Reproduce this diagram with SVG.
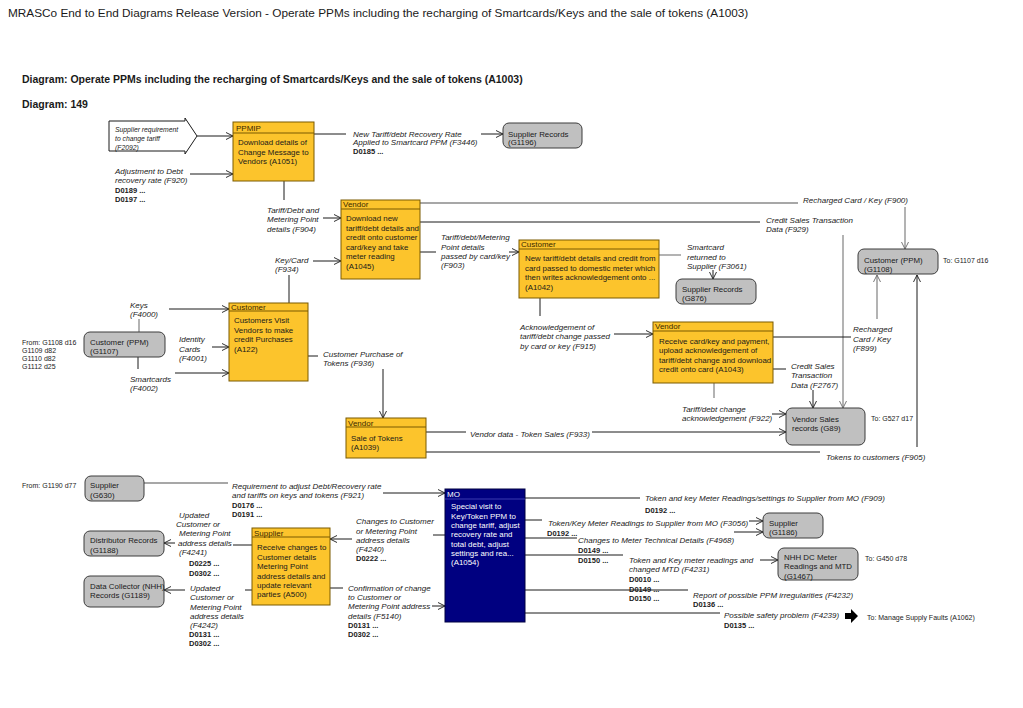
<svg xmlns="http://www.w3.org/2000/svg" width="1023" height="708" viewBox="0 0 1023 708">
<defs>
<style>
text{font-family:"Liberation Sans",Arial,sans-serif;fill:#1a1a1a}
.ttl{font-size:11.8px}
.hd{font-size:10.5px;font-weight:bold}
.l{font-size:8px;font-style:italic}
.sl{font-size:6.8px;font-style:italic}
.c{font-size:7.5px;font-weight:bold}
.n{font-size:7.9px}
.h{font-size:8px;fill:#3a2800}
.x{font-size:7px}
.w{fill:#ffffff}
.yb{fill:#FCC42C;stroke:#7a5a00;stroke-width:1}
.gb{fill:#c0c0c0;stroke:#3c3c3c;stroke-width:1}
.mo{fill:#000080;stroke:#000040;stroke-width:1}
.k{stroke:#1a1a1a;stroke-width:1;fill:none}
.g{stroke:#8a8a8a;stroke-width:1.3;fill:none}
.ak{marker-end:url(#ak)}
.ag{marker-end:url(#ag)}
</style>
<marker id="ak" viewBox="0 0 10 10" refX="10" refY="5" markerWidth="7" markerHeight="8" orient="auto" markerUnits="userSpaceOnUse"><path d="M0,0 L10,5 L0,10" fill="none" stroke="#1a1a1a" stroke-width="1.3"/></marker>
<marker id="ag" viewBox="0 0 10 10" refX="10" refY="5" markerWidth="7" markerHeight="8" orient="auto" markerUnits="userSpaceOnUse"><path d="M0,0 L10,5 L0,10" fill="none" stroke="#6a6a6a" stroke-width="1.3"/></marker>
</defs>
<rect x="0" y="0" width="1023" height="708" fill="#ffffff"/>
<text class="ttl" x="8" y="17">MRASCo End to End Diagrams Release Version - Operate PPMs including the recharging of Smartcards/Keys and the sale of tokens (A1003)</text>
<text class="hd" x="22" y="83">Diagram: Operate PPMs including the recharging of Smartcards/Keys and the sale of tokens (A1003)</text>
<text class="hd" x="22" y="108">Diagram: 149</text>

<g id="connectors">
<line class="k ak" x1="197" y1="136" x2="233" y2="136"/>
<line class="k ak" x1="190" y1="174" x2="233" y2="174"/>
<line class="k" x1="314" y1="134" x2="346" y2="134"/>
<line class="k ak" x1="481" y1="134" x2="503" y2="134"/>
<line class="k" x1="284" y1="181" x2="284" y2="200"/>
<line class="k ak" x1="323" y1="218" x2="341" y2="218"/>
<line class="g" x1="420" y1="203" x2="798" y2="203"/>
<line class="g ag" x1="905" y1="207" x2="905" y2="249"/>
<line class="k" x1="420" y1="222" x2="760" y2="222"/>
<line class="g ag" x1="843" y1="235" x2="843" y2="408"/>
<line class="k" x1="420" y1="252" x2="436" y2="252"/>
<line class="k ak" x1="509" y1="252" x2="519" y2="252"/>
<line class="g" x1="659" y1="255" x2="681" y2="255"/>
<line class="k ak" x1="713" y1="270" x2="713" y2="279"/>
<line class="k" x1="540" y1="298" x2="540" y2="316"/>
<line class="k ak" x1="614" y1="334" x2="653" y2="334"/>
<line class="k" x1="773" y1="337" x2="851" y2="337"/>
<line class="g ag" x1="877" y1="319" x2="877" y2="275"/>
<line class="k" x1="773" y1="369" x2="786" y2="369"/>
<line class="k ak" x1="813" y1="390" x2="813" y2="408"/>
<line class="g" x1="714" y1="383" x2="714" y2="398"/>
<line class="k ak" x1="772" y1="414" x2="786" y2="414"/>
<line class="k" x1="426" y1="432" x2="466" y2="432"/>
<line class="k ak" x1="592" y1="432" x2="786" y2="432"/>
<line class="k" x1="426" y1="452" x2="820" y2="452"/>
<line class="k ak" x1="917" y1="447" x2="917" y2="275"/>
<line class="k" x1="289" y1="303" x2="289" y2="275"/>
<line class="k ak" x1="313" y1="261" x2="341" y2="261"/>
<line class="k" x1="308" y1="356" x2="318" y2="356"/>
<line class="k ak" x1="383" y1="369" x2="383" y2="418"/>
<line class="k ak" x1="169" y1="309" x2="229" y2="309"/>
<line class="g" x1="139" y1="319" x2="139" y2="332"/>
<line class="k ak" x1="212" y1="347" x2="229" y2="347"/>
<line class="k" x1="138" y1="357" x2="138" y2="369"/>
<line class="k ak" x1="175" y1="373" x2="229" y2="373"/>
<line class="g" x1="144" y1="483" x2="228" y2="483"/>
<line class="k ak" x1="383" y1="493" x2="445" y2="493"/>
<line class="k" x1="525" y1="498" x2="640" y2="498"/>
<line class="k" x1="525" y1="520" x2="542" y2="520"/>
<line class="k ak" x1="749" y1="521" x2="763" y2="521"/>
<line class="k" x1="525" y1="538" x2="577" y2="538"/>
<line class="k ak" x1="734" y1="532" x2="763" y2="532"/>
<line class="k" x1="525" y1="555" x2="623" y2="555"/>
<line class="k ak" x1="760" y1="560" x2="778" y2="560"/>
<line class="k" x1="525" y1="590" x2="688" y2="590"/>
<line class="k" x1="525" y1="613" x2="720" y2="613"/>
<line class="k" x1="445" y1="535" x2="433" y2="535"/>
<line class="k ak" x1="352" y1="539" x2="330" y2="539"/>
<line class="k" x1="330" y1="588" x2="343" y2="588"/>
<line class="k ak" x1="432" y1="606" x2="445" y2="606"/>
<line class="k" x1="252" y1="545" x2="233" y2="545"/>
<line class="k ak" x1="175" y1="543" x2="164" y2="543"/>
<line class="k" x1="252" y1="590" x2="245" y2="590"/>
<line class="k ak" x1="185" y1="590" x2="164" y2="590"/>
</g>

<g id="labels">
<text class="l"><tspan x="115" y="174">Adjustment to Debt</tspan><tspan x="115" y="183">recovery rate (F920)</tspan></text>
<text class="c" x="115" y="193">D0189 ...</text>
<text class="c" x="115" y="202">D0197 ...</text>
<text class="l"><tspan x="353" y="137">New Tariff/debt Recovery Rate</tspan><tspan x="353" y="145">Applied to Smartcard PPM (F3446)</tspan></text>
<text class="c" x="353" y="154">D0185 ...</text>
<text class="l"><tspan x="267" y="213">Tariff/Debt and</tspan><tspan x="267" y="222">Metering Point</tspan><tspan x="267" y="232">details (F904)</tspan></text>
<text class="l" x="803" y="203">Recharged Card / Key (F900)</text>
<text class="l"><tspan x="766" y="223">Credit Sales Transaction</tspan><tspan x="766" y="232">Data (F929)</tspan></text>
<text class="l"><tspan x="441" y="240">Tariff/debt/Metering</tspan><tspan x="441" y="250">Point details</tspan><tspan x="441" y="259">passed by card/key</tspan><tspan x="441" y="268">(F903)</tspan></text>
<text class="l"><tspan x="687" y="250">Smartcard</tspan><tspan x="687" y="260">returned to</tspan><tspan x="687" y="269">Supplier (F3061)</tspan></text>
<text class="l"><tspan x="275" y="263">Key/Card</tspan><tspan x="275" y="272">(F934)</tspan></text>
<text class="l"><tspan x="520" y="330">Acknowledgement of</tspan><tspan x="520" y="339">tariff/debt change passed</tspan><tspan x="520" y="349">by card or key (F915)</tspan></text>
<text class="l"><tspan x="853" y="332">Recharged</tspan><tspan x="853" y="342">Card / Key</tspan><tspan x="853" y="351">(F899)</tspan></text>
<text class="l"><tspan x="791" y="369">Credit Sales</tspan><tspan x="791" y="378">Transaction</tspan><tspan x="791" y="388">Data (F2767)</tspan></text>
<text class="l"><tspan x="682" y="412">Tariff/debt change</tspan><tspan x="682" y="421">acknowledgement (F922)</tspan></text>
<text class="l" x="470" y="437">Vendor data - Token Sales (F933)</text>
<text class="l" x="826" y="460">Tokens to customers (F905)</text>
<text class="l"><tspan x="323" y="357">Customer Purchase of</tspan><tspan x="323" y="366">Tokens (F936)</tspan></text>
<text class="l"><tspan x="130" y="308">Keys</tspan><tspan x="130" y="317">(F4000)</tspan></text>
<text class="l"><tspan x="179" y="342">Identity</tspan><tspan x="179" y="352">Cards</tspan><tspan x="179" y="361">(F4001)</tspan></text>
<text class="l"><tspan x="130" y="382">Smartcards</tspan><tspan x="130" y="391">(F4002)</tspan></text>
<text class="l"><tspan x="232" y="489">Requirement to adjust Debt/Recovery rate</tspan><tspan x="232" y="498">and tariffs on keys and tokens (F921)</tspan></text>
<text class="c" x="232" y="508">D0176 ...</text>
<text class="c" x="232" y="517">D0191 ...</text>
<text class="l" x="645" y="501">Token and key Meter Readings/settings to Supplier from MO (F909)</text>
<text class="c" x="645" y="513">D0192 ...</text>
<text class="l" x="548" y="526">Token/Key Meter Readings to Supplier from MO (F3056)</text>
<text class="c" x="547" y="536">D0192 ...</text>
<text class="l" x="578" y="543">Changes to Meter Technical Details (F4968)</text>
<text class="c" x="578" y="553">D0149 ...</text>
<text class="c" x="578" y="563">D0150 ...</text>
<text class="l"><tspan x="629" y="563">Token and Key meter readings and</tspan><tspan x="629" y="572">changed MTD (F4231)</tspan></text>
<text class="c" x="629" y="582">D0010 ...</text>
<text class="c" x="629" y="592">D0149 ...</text>
<text class="c" x="629" y="601">D0150 ...</text>
<text class="l" x="693" y="598">Report of possible PPM irregularities (F4232)</text>
<text class="c" x="693" y="607">D0136 ...</text>
<text class="l" x="724" y="618">Possible safety problem (F4239)</text>
<text class="c" x="724" y="628">D0135 ...</text>
<text class="l"><tspan x="356" y="524">Changes to Customer</tspan><tspan x="356" y="534">or Metering Point</tspan><tspan x="356" y="543">address details</tspan><tspan x="356" y="552">(F4240)</tspan></text>
<text class="c" x="356" y="561">D0222 ...</text>
<text class="l"><tspan x="348" y="591">Confirmation of change</tspan><tspan x="348" y="600">to Customer or</tspan><tspan x="348" y="609">Metering Point address</tspan><tspan x="348" y="619">details (F5140)</tspan></text>
<text class="c" x="348" y="628">D0131 ...</text>
<text class="c" x="348" y="637">D0302 ...</text>
<text class="l"><tspan x="179" y="518">Updated</tspan><tspan x="176" y="527">Customer or</tspan><tspan x="179" y="536">Metering Point</tspan><tspan x="178" y="546">address details</tspan><tspan x="179" y="555">(F4241)</tspan></text>
<text class="c" x="189" y="566">D0225 ...</text>
<text class="c" x="189" y="576">D0302 ...</text>
<text class="l"><tspan x="190" y="591">Updated</tspan><tspan x="190" y="600">Customer or</tspan><tspan x="190" y="610">Metering Point</tspan><tspan x="190" y="619">address details</tspan><tspan x="190" y="628">(F4242)</tspan></text>
<text class="c" x="189" y="637">D0131 ...</text>
<text class="c" x="189" y="646">D0302 ...</text>
</g>

<g id="n-f2092">
<polygon points="109,121 185,121 185,118 197,136 185,154 185,151 109,151" fill="#ffffff" stroke="#1a1a1a" stroke-width="1"/>
<text class="sl"><tspan x="115" y="132">Supplier requirement</tspan><tspan x="115" y="141">to change tariff</tspan><tspan x="115" y="150">(F2092)</tspan></text>
</g>

<g id="n-a1051">
<rect class="yb" x="233" y="122" width="81" height="59"/>
<line x1="233" y1="133" x2="314" y2="133" stroke="#7a5a00"/>
<text class="h" x="236" y="131">PPMIP</text>
<text class="n"><tspan x="238" y="145">Download details of</tspan><tspan x="238" y="154.5">Change Message to</tspan><tspan x="238" y="164">Vendors (A1051)</tspan></text>
</g>

<g id="n-g1196">
<rect class="gb" x="503" y="123" width="79" height="25" rx="6"/>
<text class="n"><tspan x="508" y="137">Supplier Records</tspan><tspan x="508" y="145">(G1196)</tspan></text>
</g>

<g id="n-a1045">
<rect class="yb" x="341" y="200" width="79" height="79"/>
<line x1="341" y1="209" x2="420" y2="209" stroke="#7a5a00"/>
<text class="h" x="343" y="207">Vendor</text>
<text class="n"><tspan x="346" y="221">Download new</tspan><tspan x="346" y="230.5" textLength="73" lengthAdjust="spacingAndGlyphs">tariff/debt details and</tspan><tspan x="346" y="240">credit onto customer</tspan><tspan x="346" y="249.5">card/key and take</tspan><tspan x="346" y="259">meter reading</tspan><tspan x="346" y="268.5">(A1045)</tspan></text>
</g>

<g id="n-a1042">
<rect class="yb" x="519" y="240" width="140" height="58"/>
<line x1="519" y1="249" x2="659" y2="249" stroke="#7a5a00"/>
<text class="h" x="521" y="247">Customer</text>
<text class="n"><tspan x="525" y="261">New tariff/debt details and credit from</tspan><tspan x="525" y="270.5">card passed to domestic meter which</tspan><tspan x="525" y="280">then writes acknowledgement onto ...</tspan><tspan x="525" y="289.5">(A1042)</tspan></text>
</g>

<g id="n-g876">
<rect class="gb" x="676" y="279" width="80" height="25" rx="6"/>
<text class="n"><tspan x="682" y="292">Supplier Records</tspan><tspan x="682" y="301">(G876)</tspan></text>
</g>

<g id="n-g1108">
<rect class="gb" x="858" y="249" width="80" height="25" rx="6"/>
<text class="n"><tspan x="864" y="263">Customer (PPM)</tspan><tspan x="864" y="272">(G1108)</tspan></text>
<text class="x" x="943" y="263">To: G1107 d16</text>
</g>

<g id="n-a122">
<rect class="yb" x="229" y="303" width="79" height="78"/>
<line x1="229" y1="311" x2="308" y2="311" stroke="#7a5a00"/>
<text class="h" x="231" y="310">Customer</text>
<text class="n"><tspan x="234" y="323">Customers Visit</tspan><tspan x="234" y="332.5">Vendors to make</tspan><tspan x="234" y="342">credit Purchases</tspan><tspan x="234" y="351.5">(A122)</tspan></text>
</g>

<g id="n-g1107">
<rect class="gb" x="84" y="332" width="81" height="25" rx="6"/>
<text class="n"><tspan x="90" y="345">Customer (PPM)</tspan><tspan x="90" y="354">(G1107)</tspan></text>
<text class="x"><tspan x="22" y="345">From: G1108 d16</tspan><tspan x="22" y="353">G1109 d82</tspan><tspan x="22" y="361">G1110 d82</tspan><tspan x="22" y="369">G1112 d25</tspan></text>
</g>

<g id="n-a1043">
<rect class="yb" x="653" y="322" width="120" height="61"/>
<line x1="653" y1="331" x2="773" y2="331" stroke="#7a5a00"/>
<text class="h" x="655" y="329">Vendor</text>
<text class="n"><tspan x="659" y="344">Receive card/key and payment,</tspan><tspan x="659" y="353">upload acknowledgement of</tspan><tspan x="659" y="362.5">tariff/debt change and download</tspan><tspan x="659" y="372">credit onto card (A1043)</tspan></text>
</g>

<g id="n-g89">
<rect class="gb" x="786" y="408" width="79" height="37" rx="6"/>
<text class="n"><tspan x="792" y="422">Vendor Sales</tspan><tspan x="792" y="431">records (G89)</tspan></text>
<text class="x" x="871" y="421">To: G527 d17</text>
</g>

<g id="n-a1039">
<rect class="yb" x="346" y="418" width="80" height="40"/>
<line x1="346" y1="427" x2="426" y2="427" stroke="#7a5a00"/>
<text class="h" x="348" y="426">Vendor</text>
<text class="n"><tspan x="351" y="441">Sale of Tokens</tspan><tspan x="351" y="450">(A1039)</tspan></text>
</g>

<g id="n-g630">
<rect class="gb" x="85" y="476" width="59" height="25" rx="6"/>
<text class="n"><tspan x="90" y="488">Supplier</tspan><tspan x="90" y="498">(G630)</tspan></text>
<text class="x" x="22" y="488">From: G1190 d77</text>
</g>

<g id="n-a1054">
<rect class="mo" x="445" y="489" width="80" height="133"/>
<line x1="445" y1="499" x2="525" y2="499" stroke="#3a3ab0"/>
<text class="h w" x="447" y="497">MO</text>
<text class="n w"><tspan x="451" y="509">Special visit to</tspan><tspan x="451" y="518.5">Key/Token PPM to</tspan><tspan x="451" y="528">change tariff, adjust</tspan><tspan x="451" y="537">recovery rate and</tspan><tspan x="451" y="546.5">total debt, adjust</tspan><tspan x="451" y="556">settings and rea...</tspan><tspan x="451" y="565">(A1054)</tspan></text>
</g>

<g id="n-g1186">
<rect class="gb" x="763" y="513" width="60" height="25" rx="6"/>
<text class="n"><tspan x="769" y="526">Supplier</tspan><tspan x="769" y="535">(G1186)</tspan></text>
</g>

<g id="n-g1467">
<rect class="gb" x="778" y="548" width="80" height="32" rx="6"/>
<text class="n"><tspan x="784" y="560">NHH DC Meter</tspan><tspan x="784" y="569">Readings and MTD</tspan><tspan x="784" y="579">(G1467)</tspan></text>
<text class="x" x="865" y="561">To: G450 d78</text>
</g>

<g id="n-a1062">
<polygon points="845,613 851,613 851,609 858,616 851,623 851,619 845,619" fill="#000000"/>
<text class="x" x="867" y="620">To: Manage Supply Faults (A1062)</text>
</g>

<g id="n-a500">
<rect class="yb" x="252" y="528" width="78" height="77"/>
<line x1="252" y1="537" x2="330" y2="537" stroke="#7a5a00"/>
<text class="h" x="254" y="536">Supplier</text>
<text class="n"><tspan x="257" y="550">Receive changes to</tspan><tspan x="257" y="560">Customer details</tspan><tspan x="257" y="569">Metering Point</tspan><tspan x="257" y="579">address details and</tspan><tspan x="257" y="588">update relevant</tspan><tspan x="257" y="597">parties (A500)</tspan></text>
</g>

<g id="n-g1188">
<rect class="gb" x="84" y="531" width="80" height="25" rx="6"/>
<text class="n"><tspan x="90" y="543">Distributor Records</tspan><tspan x="90" y="553">(G1188)</tspan></text>
</g>

<g id="n-g1189">
<rect class="gb" x="84" y="576" width="80" height="31" rx="6"/>
<text class="n"><tspan x="90" y="589">Data Collector (NHH)</tspan><tspan x="90" y="598">Records (G1189)</tspan></text>
</g>
</svg>
